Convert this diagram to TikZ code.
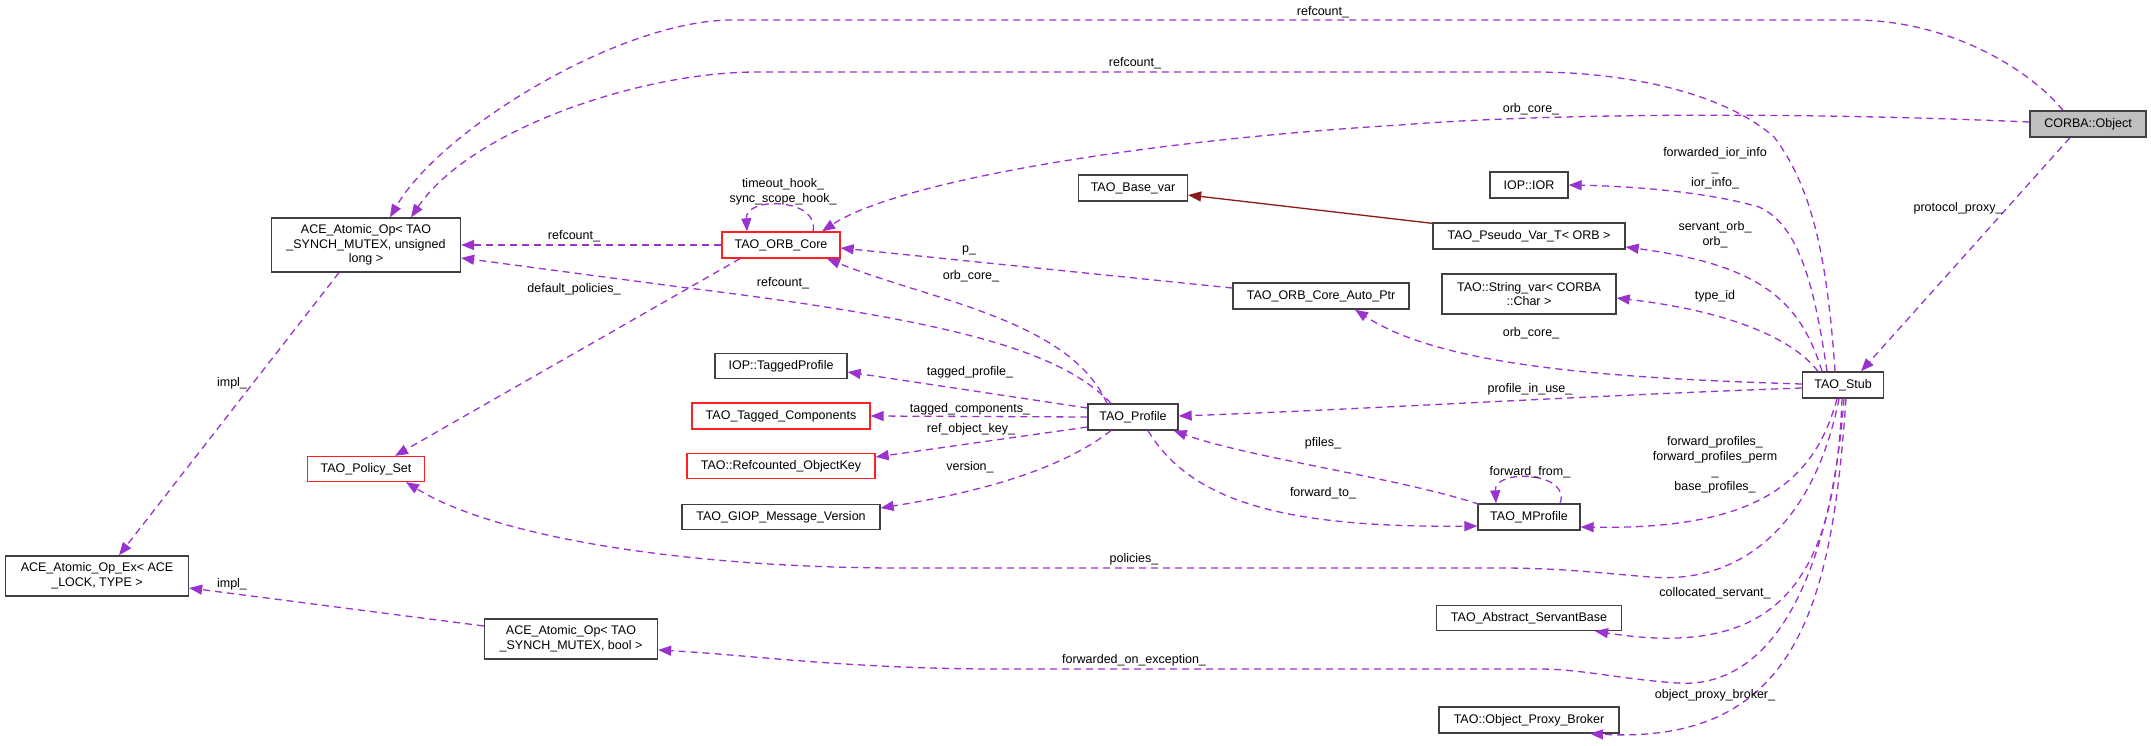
\documentclass[tikz,border=0pt]{standalone}
\usepackage{fontspec}
\setmainfont{Liberation Sans}
\usetikzlibrary{arrows.meta}
\definecolor{edgec}{HTML}{9A32CD}
\definecolor{inhc}{HTML}{8B1A1A}
\definecolor{boxc}{HTML}{404040}
\definecolor{redc}{HTML}{FF2020}
\definecolor{grayfill}{HTML}{BFBFBF}
\begin{document}
\begin{tikzpicture}[x=1pt,y=-1pt,
 cls/.style={draw=boxc, line width=1.3pt, fill=white, inner sep=0pt, align=center, font=\fontsize{12.5}{14.6}\selectfont},
 redcls/.style={cls, draw=redc},
 rel/.style={draw=edgec, line width=1.3pt, dash pattern=on 7pt off 5pt, -{Triangle[length=13pt,width=10pt]}},
 inh/.style={draw=inhc, line width=1.3pt, -{Triangle[length=13pt,width=10pt]}},
 lbl/.style={font=\fontsize{12.5}{15}\selectfont, inner sep=0pt, align=center},
]
\useasboundingbox[fill=white] (0,0) rectangle (2151,746);

% nodes
\node[cls, minimum width=189pt, minimum height=54pt] (aceUL) at (366,245) {ACE\_Atomic\_Op< TAO\\\_SYNCH\_MUTEX, unsigned\\long >};
\node[redcls, minimum width=117pt, minimum height=25pt] (policy) at (366,469) {TAO\_Policy\_Set};
\node[cls, minimum width=183pt, minimum height=40pt] (aceEx) at (97,576) {ACE\_Atomic\_Op\_Ex< ACE\\\_LOCK, TYPE >};
\node[cls, minimum width=173pt, minimum height=40pt] (aceBool) at (571,639) {ACE\_Atomic\_Op< TAO\\\_SYNCH\_MUTEX, bool >};
\node[redcls, minimum width=118pt, minimum height=26pt] (orbcore) at (781,245) {TAO\_ORB\_Core};
\node[cls, minimum width=109pt, minimum height=26pt] (basevar) at (1133,188) {TAO\_Base\_var};
\node[cls, minimum width=176pt, minimum height=26pt] (autoptr) at (1321,296) {TAO\_ORB\_Core\_Auto\_Ptr};
\node[cls, minimum width=78pt, minimum height=26pt] (iopior) at (1529,185) {IOP::IOR};
\node[cls, minimum width=192pt, minimum height=26pt] (pseudo) at (1529,236) {TAO\_Pseudo\_Var\_T< ORB >};
\node[cls, minimum width=174pt, minimum height=40pt] (stringvar) at (1529,294) {TAO::String\_var< CORBA\\::Char >};
\node[cls, minimum width=132pt, minimum height=25pt] (taggedprof) at (781,366) {IOP::TaggedProfile};
\node[redcls, minimum width=178pt, minimum height=26pt] (taggedcomp) at (781,416) {TAO\_Tagged\_Components};
\node[redcls, minimum width=188pt, minimum height=25pt] (rok) at (781,466) {TAO::Refcounted\_ObjectKey};
\node[cls, minimum width=198pt, minimum height=25pt] (giop) at (781,517) {TAO\_GIOP\_Message\_Version};
\node[cls, minimum width=90pt, minimum height=26pt] (profile) at (1133,417) {TAO\_Profile};
\node[cls, minimum width=102pt, minimum height=26pt] (mprofile) at (1529,517) {TAO\_MProfile};
\node[cls, minimum width=81pt, minimum height=26pt] (stub) at (1843,385) {TAO\_Stub};
\node[cls, fill=grayfill, minimum width=116pt, minimum height=26pt] (corba) at (2088,124) {CORBA::Object};
\node[cls, minimum width=185pt, minimum height=25pt] (asb) at (1529,618) {TAO\_Abstract\_ServantBase};
\node[cls, minimum width=180pt, minimum height=26pt] (opb) at (1529,720) {TAO::Object\_Proxy\_Broker};

% edges
\draw[rel] ([shift={(-25,0)}]corba.north) .. controls (2030,70) and (1950,20) .. (1853,20) -- (732,20) .. controls (620,20) and (440,130) .. ([shift={(24,0)}]aceUL.north);
\draw[rel] ([shift={(-8,0)}]stub.north) .. controls (1828,270) and (1815,190) .. (1774,137) .. controls (1720,90) and (1620,72) .. (1534,72) -- (757,72) .. controls (640,72) and (470,130) .. ([shift={(45,0)}]aceUL.north);
\draw[rel] ([shift={(0,-2)}]corba.west) .. controls (1800,112) and (1550,113) .. (1400,125) .. controls (1150,140) and (900,180) .. ([shift={(41,0)}]orbcore.north);
\draw[rel] ([shift={(32,0)}]orbcore.north) .. controls (820,198) and (745,196) .. ([shift={(-34,0)}]orbcore.north);
\draw[rel] (orbcore.west) -- (aceUL.east);
\draw[rel] ([shift={(-41,0)}]orbcore.south) -- ([shift={(29,0)}]policy.north);
\draw[rel] ([shift={(-22,0)}]profile.north) .. controls (1060,350) and (950,320) .. (680,287) -- ([shift={(0,13)}]aceUL.east);
\draw[rel] ([shift={(-26,0)}]profile.north) .. controls (1070,320) and (930,300) .. ([shift={(46,0)}]orbcore.south);
\draw[rel] ([shift={(0,-8)}]autoptr.west) -- ([shift={(0,3)}]orbcore.east);
\draw[inh] ([shift={(0,1)}]pseudo.north west) -- ([shift={(0,7)}]basevar.east);
\draw[rel] ([shift={(-16,0)}]stub.north) .. controls (1815,290) and (1800,225) .. (1759,207) .. controls (1700,190) and (1620,186) .. (iopior.east);
\draw[rel] ([shift={(-21,0)}]stub.north) .. controls (1800,300) and (1760,265) .. ([shift={(0,11)}]pseudo.east);
\draw[rel] ([shift={(-25,0)}]stub.north) .. controls (1790,335) and (1720,310) .. ([shift={(0,4)}]stringvar.east);
\draw[rel] ([shift={(0,-1)}]stub.west) .. controls (1600,378) and (1440,365) .. ([shift={(34,0)}]autoptr.south);
\draw[rel] ([shift={(0,3)}]stub.west) .. controls (1600,395) and (1350,410) .. ([shift={(0,-1)}]profile.east);
\draw[rel] ([shift={(-6,0)}]stub.south) .. controls (1815,480) and (1760,530) .. ([shift={(0,10)}]mprofile.east);
\draw[rel] ([shift={(31,0)}]mprofile.north) .. controls (1572,472) and (1494,468) .. ([shift={(-33,0)}]mprofile.north);
\draw[rel] ([shift={(2,1)}]mprofile.north west) .. controls (1400,478) and (1250,458) .. ([shift={(-5,0)}]profile.south east);
\draw[rel] ([shift={(15,0)}]profile.south) .. controls (1190,500) and (1280,528) .. ([shift={(0,9)}]mprofile.west);
\draw[rel] ([shift={(0,-9)}]profile.west) -- ([shift={(0,6)}]taggedprof.east);
\draw[rel] (profile.west) -- (taggedcomp.east);
\draw[rel] ([shift={(0,10)}]profile.west) -- ([shift={(0,-9)}]rok.east);
\draw[rel] ([shift={(-22,0)}]profile.south) .. controls (1060,470) and (980,492) .. ([shift={(0,-9)}]giop.east);
\draw[rel] ([shift={(-4,0)}]stub.south) .. controls (1815,520) and (1745,585) .. (1650,577) .. controls (1600,573) and (1560,568) .. (1500,568) -- (900,568) .. controls (700,568) and (500,540) .. ([shift={(40,0)}]policy.south);
\draw[rel] ([shift={(-1,0)}]stub.south) .. controls (1835,580) and (1780,660) .. ([shift={(66,0)}]asb.south);
\draw[rel] ([shift={(1,0)}]stub.south) .. controls (1832,560) and (1780,690) .. (1677,683) .. controls (1620,679) and (1580,669) .. (1540,669) -- (1000,669) .. controls (850,669) and (750,655) .. ([shift={(0,11)}]aceBool.east);
\draw[rel] ([shift={(3,0)}]stub.south) .. controls (1832,600) and (1800,745) .. ([shift={(61,0)}]opb.south);
\draw[rel] ([shift={(-18,0)}]corba.south) -- ([shift={(18,0)}]stub.north);
\draw[rel] ([shift={(-27,0)}]aceUL.south) -- ([shift={(22,0)}]aceEx.north);
\draw[rel] ([shift={(0,-13)}]aceBool.west) -- ([shift={(0,12)}]aceEx.east);

% labels
\node[lbl] (l1) at (1323,12) {refcount\_};
\node[lbl] (l2) at (1135,63) {refcount\_};
\node[lbl] (l3) at (1531,109) {orb\_core\_};
\node[lbl] (l4) at (783,192) {timeout\_hook\_\\sync\_scope\_hook\_};
\node[lbl] (l5) at (574,236) {refcount\_};
\node[lbl] (l6) at (574,289) {default\_policies\_};
\node[lbl] (l7) at (969,250) {p\_};
\node[lbl] (l8) at (971,276) {orb\_core\_};
\node[lbl] (l9) at (783,283) {refcount\_};
\node[lbl] (l10) at (1715,168) {forwarded\_ior\_info\\\_\\ior\_info\_};
\node[lbl] (l11) at (1715,235) {servant\_orb\_\\orb\_};
\node[lbl] (l12) at (1715,296) {type\_id};
\node[lbl] (l13) at (1958,208) {protocol\_proxy\_};
\node[lbl] (l14) at (1531,333) {orb\_core\_};
\node[lbl] (l15) at (1530,389) {profile\_in\_use\_};
\node[lbl] (l16) at (1715,465) {forward\_profiles\_\\forward\_profiles\_perm\\\_\\base\_profiles\_};
\node[lbl] (l17) at (1530,472) {forward\_from\_};
\node[lbl] (l18) at (1323,443) {pfiles\_};
\node[lbl] (l19) at (1323,493) {forward\_to\_};
\node[lbl] (l20) at (970,372) {tagged\_profile\_};
\node[lbl] (l21) at (970,409) {tagged\_components\_};
\node[lbl] (l22) at (971,429) {ref\_object\_key\_};
\node[lbl] (l23) at (970,467) {version\_};
\node[lbl] (l24) at (1134,559) {policies\_};
\node[lbl] (l25) at (1715,593) {collocated\_servant\_};
\node[lbl] (l26) at (1134,660) {forwarded\_on\_exception\_};
\node[lbl] (l27) at (1715,695) {object\_proxy\_broker\_};
\node[lbl] (l28) at (232,383) {impl\_};
\node[lbl] (l29) at (232,584) {impl\_};
\end{tikzpicture}
\end{document}
